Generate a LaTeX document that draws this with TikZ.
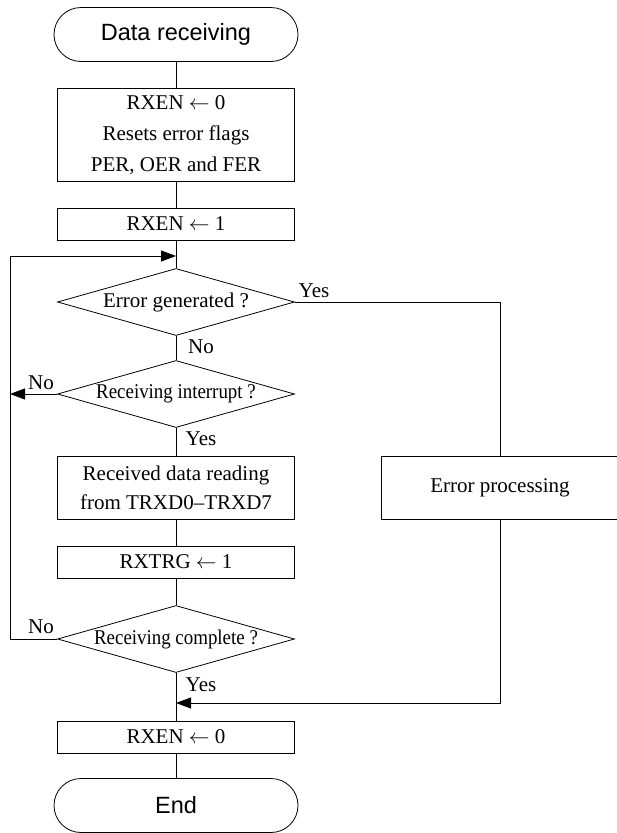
\documentclass[tikz,border=0pt]{standalone}
\usepackage{fontspec}
\setmainfont{Liberation Serif}
\newfontfamily\headfont{Liberation Sans}
\newfontfamily\narrowfont[FakeStretch=0.9]{Liberation Serif}
\usetikzlibrary{arrows.meta,shapes.geometric}
\tikzset{
  procbox/.style={draw,rectangle,minimum width=237pt,inner sep=0pt,align=center},
  termbox/.style={draw,rectangle,rounded corners=27pt,minimum width=244pt,minimum height=54pt,
    font=\headfont\fontsize{23.5}{27}\selectfont},
  decbox/.style={draw,diamond,aspect=3.54,minimum width=237pt,minimum height=67pt,inner sep=0pt},
  narrowtext/.style={font=\narrowfont\fontsize{21}{25}\selectfont},
  flow/.style={-{Triangle[length=15pt,width=11pt]}},
}
\begin{document}
\begin{tikzpicture}[x=1pt,y=-1pt,line width=0.8pt,font=\fontsize{21}{31}\selectfont]
\clip (0,0) rectangle (617,833);
% main column
\node[termbox] (start) at (176,34.5) {Data receiving};
\node[procbox,minimum height=93pt] (clr) at (176,135) {RXEN $\leftarrow$ 0\\Resets error flags\\PER, OER and FER};
\node[procbox,minimum height=32pt] (en) at (176,224) {RXEN $\leftarrow$ 1};
\coordinate (loop) at (176,256);
\node[decbox] (err) at (176,302) {Error generated ?};
\node[decbox,narrowtext] (intr) at (176,394) {Receiving interrupt ?};
\node[procbox,minimum height=63pt,font=\fontsize{21}{29}\selectfont] (read) at (176,487.5) {Received data reading\\from TRXD0--TRXD7};
\node[procbox,minimum height=32pt] (trg) at (176,562) {RXTRG $\leftarrow$ 1};
\node[decbox,narrowtext] (cmp) at (176,639) {Receiving complete ?};
\coordinate (merge) at (176,703);
\node[procbox,minimum height=32pt] (dis) at (176,737) {RXEN $\leftarrow$ 0};
\node[termbox] (stop) at (176,805.5) {End};
% error branch
\node[procbox,minimum width=238pt,minimum height=63pt] (errp) at (500,487.5) {Error processing};
\coordinate (back) at (10,639);
% connectors
\draw (start) -- (clr);
\draw (clr) -- (en);
\draw (en) -- (err);
\draw (err) -- (intr);
\draw (intr) -- (read);
\draw (read) -- (trg);
\draw (trg) -- (cmp);
\draw (cmp) -- (dis);
\draw (dis) -- (stop);
\draw (err.east) -| (errp.north);
\draw[flow] (errp.south) |- (merge);
\draw[flow] (cmp.west) -- (back) |- (loop);
\draw[flow] (intr.west) -- (intr.west -| back);
% branch labels
\node (yes1) at (314,291) {Yes};
\node (no1) at (201,347) {No};
\node (no2) at (41,383) {No};
\node (yes2) at (201,439) {Yes};
\node (no3) at (41,627) {No};
\node (yes3) at (201,685) {Yes};
\end{tikzpicture}
\end{document}
